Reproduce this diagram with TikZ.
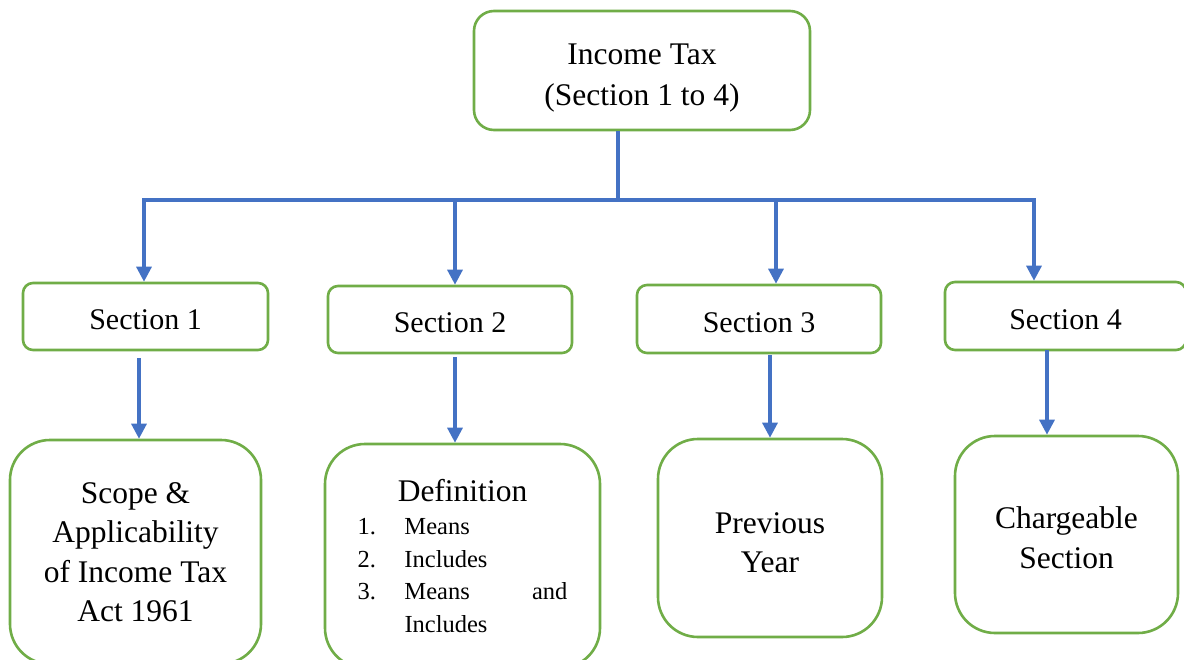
\documentclass[tikz,border=0pt]{standalone}
\usepackage{fontspec}
\setmainfont{Liberation Serif}
\usetikzlibrary{arrows.meta}
\definecolor{boxgreen}{HTML}{70AD47}
\definecolor{linkblue}{HTML}{4472C4}
% invisible strut that makes the first text line taller
\newcommand{\topstrut}[1]{\rule{0pt}{#1}}
\begin{document}
\begin{tikzpicture}[x=1pt,y=-1pt,
  box/.style={draw=boxgreen, line width=2.6pt, fill=white, align=center, inner sep=0pt},
  topbox/.style={box, rounded corners=20pt, minimum width=336pt, minimum height=119pt,
    font=\fontsize{31.5}{41}\selectfont},
  secbox/.style={box, rounded corners=10pt, minimum height=67pt,
    font=\fontsize{30}{36}\selectfont},
  leafbox/.style={box, rounded corners=40pt, font=\fontsize{31.5}{39.5}\selectfont},
  link/.style={draw=linkblue, line width=3.2pt},
  arr/.style={link, -{Triangle[width=15pt,length=15pt]}}]
\clip (0,0) rectangle (1184,659);
\fill[white] (0,0) rectangle (1184,659);

% root
\node[topbox] (top) at (642,70.5) {\topstrut{35pt}Income Tax\\(Section 1 to 4)};

% sections
\node[secbox, minimum width=245pt] (s1) at (145.5,316.5) {\topstrut{27pt}Section 1};
\node[secbox, minimum width=244pt] (s2) at (450,319.5) {\topstrut{27pt}Section 2};
\node[secbox, minimum width=244pt, minimum height=68pt] (s3) at (759,319) {\topstrut{27pt}Section 3};
\node[secbox, minimum width=241pt, minimum height=68pt] (s4) at (1065.5,316) {\topstrut{27pt}Section 4};

% contents of each section
\node[leafbox, minimum width=251pt, minimum height=224pt] (b1) at (135.5,552)
  {Scope \&\\Applicability\\of Income Tax\\Act 1961};
\node[leafbox, minimum width=275pt, minimum height=224pt] (b2) at (462.5,556)
  {\begin{minipage}{210pt}\centering\fontsize{31.5}{33}\selectfont
   \topstrut{32pt}Definition\par
   {\fontsize{24.5}{32.5}\selectfont
   \begin{tabular}[t]{@{}p{47pt}@{}p{163pt}@{}}
   1. & Means\\
   2. & Includes\\
   3. & \leavevmode\hbox to 163pt{Means\hfill and}\\
      & Includes
   \end{tabular}}\par
   \end{minipage}};
\node[leafbox, minimum width=224pt, minimum height=198pt] (b3) at (770,538)
  {\topstrut{30pt}Previous\\Year};
\node[leafbox, minimum width=223pt, minimum height=197pt] (b4) at (1066.5,534.5)
  {\topstrut{28pt}Chargeable\\Section};

% connectors from the root
\coordinate (stem) at (618,200);
\coordinate (j1) at (144,200);
\coordinate (j2) at (455,200);
\coordinate (j3) at (776,200);
\coordinate (j4) at (1034,200);
\draw[link] (top.south -| stem) -- (stem);
\draw[link] (j2) -- (j3);
\draw[arr] (j2) -- (j1) -- (j1 |- s1.north);
\draw[arr] (j3) -- (j4) -- (j4 |- s4.north);
\draw[arr] (j2) -- (j2 |- s2.north);
\draw[arr] (j3) -- (j3 |- s3.north);

% connectors from sections to contents
\coordinate (k1) at (139,358);
\coordinate (k2) at (455,357);
\coordinate (k3) at (770,355);
\coordinate (k4) at (1047,350);
\draw[arr] (k1) -- (k1 |- b1.north);
\draw[arr] (k2) -- (k2 |- b2.north);
\draw[arr] (k3) -- (k3 |- b3.north);
\draw[arr] (k4) -- (k4 |- b4.north);
\end{tikzpicture}
\end{document}
